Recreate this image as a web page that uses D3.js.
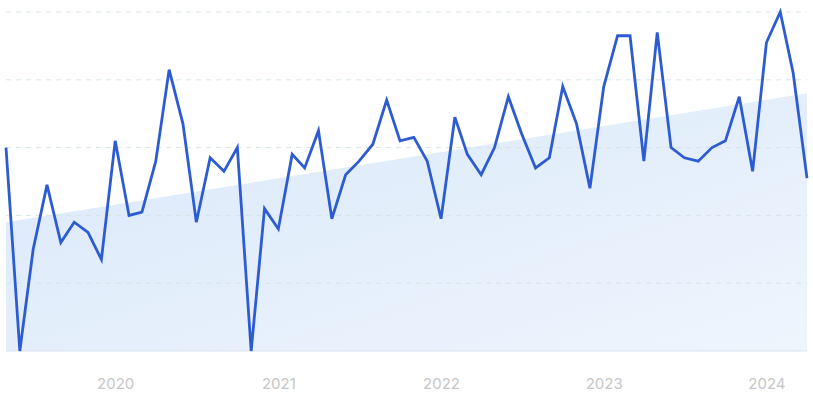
<!DOCTYPE html>
<html>
<head>
<meta charset="utf-8">
<script src="https://cdn.jsdelivr.net/npm/d3@7"></script>
<style>
  html, body { margin: 0; padding: 0; background: #ffffff; }
  svg { display: block; }
</style>
</head>
<body>
<svg id="chart" width="813" height="393"></svg>
<script>
// ---- data ----
const startMonth = "2019-05";
const values = [
  60, 0, 30, 49, 32, 38, 35, 27,
  62, 40, 41, 56, 83, 67, 38, 57, 53, 60, 0, 42,
  36, 58, 54, 65, 39, 52, 56, 61, 74, 62, 63, 56,
  39, 69, 58, 52, 60, 75, 64, 54, 57, 78, 67, 48,
  78, 93, 93, 56, 94, 60, 57, 56, 60, 62, 75, 53,
  91, 100, 82, 51
];
const trendValues = [38, 76];
const yTicks = [0, 20, 40, 60, 80, 100];
const yearLabels = ["2020", "2021", "2022", "2023", "2024"];

// ---- setup ----
(function () {
const parseMonth = d3.timeParse("%Y-%m");
const start = parseMonth(startMonth);
const dates = values.map((_, i) => d3.timeMonth.offset(start, i));
const data = values.map((v, i) => ({ date: dates[i], value: v }));

const svg = d3.select("#chart");
const mLeft = 6, mRight = 807, mTop = 12, mBottom = 351;

const x = d3.scaleTime()
  .domain([dates[0], dates[dates.length - 1]])
  .range([mLeft, mRight]);
const y = d3.scaleLinear().domain([0, 100]).range([mBottom, mTop]);

// gradient
const defs = svg.append("defs");
const grad = defs.append("linearGradient")
  .attr("id", "trendFill")
  .attr("x1", "0%").attr("y1", "0%").attr("x2", "100%").attr("y2", "100%");
grad.append("stop").attr("offset", "0%").attr("stop-color", "#dae8fa");
grad.append("stop").attr("offset", "100%").attr("stop-color", "#eef5fd");

// trend area
const trendData = [
  { date: dates[0], value: trendValues[0] },
  { date: dates[dates.length - 1], value: trendValues[1] }
];
svg.append("path")
  .datum(trendData)
  .attr("fill", "url(#trendFill)")
  .attr("d", d3.area().x(d => x(d.date)).y0(y(0)).y1(d => y(d.value)));

// gridlines
svg.append("g")
  .selectAll("line")
  .data(yTicks.filter(t => t > 0))
  .join("line")
  .attr("x1", mLeft).attr("x2", mRight)
  .attr("y1", d => y(d)).attr("y2", d => y(d))
  .attr("stroke", "#d3e0e6")
  .attr("stroke-opacity", 0.9)
  .attr("stroke-width", 1)
  .attr("stroke-dasharray", "5,5");

// baseline
svg.append("line")
  .attr("x1", mLeft).attr("x2", mRight)
  .attr("y1", y(0)).attr("y2", y(0))
  .attr("stroke", "#d8e3ee")
  .attr("stroke-width", 1);

// main line
svg.append("path")
  .datum(data)
  .attr("fill", "none")
  .attr("stroke", "#2d5cd2")
  .attr("stroke-width", 2.8)
  .attr("stroke-linejoin", "miter")
  .attr("d", d3.line().x(d => x(d.date)).y(d => y(d.value)));

// x axis labels
const xAxis = d3.axisBottom(x)
  .tickValues(yearLabels.map(s => d3.timeParse("%Y")(s)))
  .tickFormat(d3.timeFormat("%Y"))
  .tickSize(0)
  .tickPadding(0);
const gx = svg.append("g")
  .attr("transform", `translate(0, ${mBottom})`)
  .call(xAxis);
gx.select(".domain").remove();
gx.selectAll("text")
  .attr("y", 38)
  .attr("dy", "0")
  .attr("fill", "#c6c6c6")
  .style("font-family", "Inter, 'Open Sans', sans-serif")
  .style("font-size", "15px");
})();
</script>
</body>
</html>
